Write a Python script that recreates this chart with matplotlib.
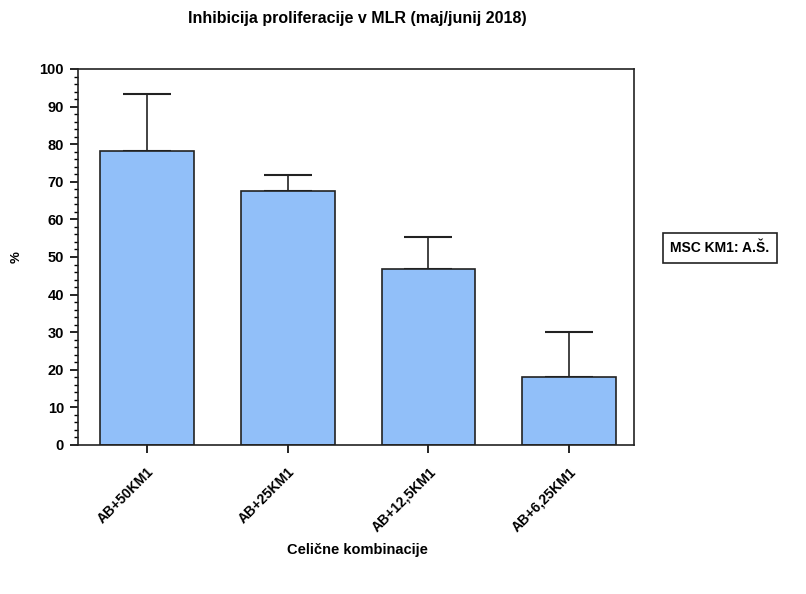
import matplotlib
matplotlib.use("Agg")
import matplotlib.pyplot as plt
from matplotlib.ticker import MultipleLocator

plt.rcParams['font.family'] = ['Liberation Sans', 'DejaVu Sans']
plt.rcParams['font.weight'] = 'bold'

categories = ["AB+50KM1", "AB+25KM1", "AB+12,5KM1", "AB+6,25KM1"]
means = [78.2, 67.6, 46.7, 18.1]
errors = [15.2, 4.2, 8.6, 12.0]

title = "Inhibicija proliferacije v MLR (maj/junij 2018)"
xlabel = "Celične kombinacije"
ylabel = "%"
legend_text = "MSC KM1: A.Š."

fig = plt.figure(figsize=(8.06, 5.94), dpi=100)
ax = fig.add_axes([78 / 806, 1 - 445 / 594, (634 - 78) / 806, (445 - 69) / 594])

x = list(range(len(categories)))
ax.bar(x, means, width=0.667, color="#91bff9", edgecolor="#222222", linewidth=1.2, zorder=2)
ax.errorbar(x, means, yerr=[[0] * len(errors), errors], fmt="none", ecolor="#222222",
            elinewidth=1.2, capsize=17, capthick=1.5, zorder=1)

ax.set_xlim(-0.49, 3.46)
ax.set_ylim(0, 100)
ax.yaxis.set_major_locator(MultipleLocator(10))
ax.yaxis.set_minor_locator(MultipleLocator(2))
ax.tick_params(axis="y", which="major", direction="out", length=6, width=1.2, labelsize=10.5, pad=4)
ax.tick_params(axis="y", which="minor", direction="out", length=3, width=1)
ax.tick_params(axis="x", direction="out", length=6, width=1.2, labelsize=10, pad=8)
ax.set_xticks(x)
ax.set_xticklabels(categories, rotation=45, ha="right", rotation_mode="anchor", fontweight="bold")
for lbl in ax.get_yticklabels():
    lbl.set_fontweight("bold")
for s in ax.spines.values():
    s.set_linewidth(1.2)
    s.set_color("#222222")

fig.text(357 / 806, 1 - 18 / 594, title, ha="center", va="center", fontsize=11.5, fontweight="bold")
fig.text(357 / 806, 1 - 550 / 594, xlabel, ha="center", va="center", fontsize=10.5, fontweight="bold")
fig.text(17 / 806, 1 - 257 / 594, ylabel, ha="center", va="center", fontsize=9.5, fontweight="bold", rotation=90)
fig.text(720 / 806, 1 - 248 / 594, legend_text, ha="center", va="center", fontsize=10, fontweight="bold",
         bbox=dict(boxstyle="square,pad=0.55", facecolor="white", edgecolor="#222222", linewidth=1.2))

fig.savefig("out.png", dpi=100)
